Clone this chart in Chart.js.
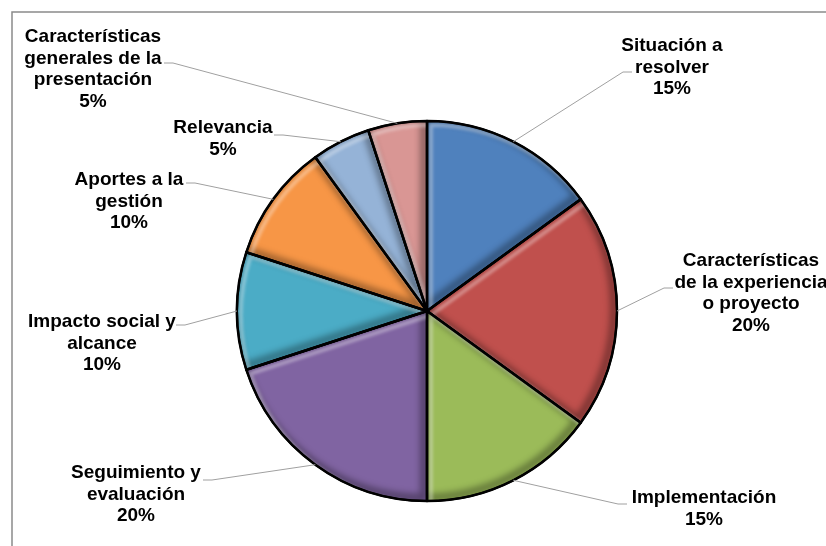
<!DOCTYPE html>
<html>
<head>
<meta charset="utf-8">
<script src="https://cdn.jsdelivr.net/npm/chart.js@4.4.0/dist/chart.umd.min.js"></script>
<style>
  html, body { margin: 0; padding: 0; background: #fff; }
  canvas { display: block; }
</style>
</head>
<body>
<canvas id="pieChart" width="826" height="546"></canvas>
<script>
// Data (clockwise from 12 o'clock)
const categories = [
  'Situación a\nresolver',
  'Características\nde la experiencia\no proyecto',
  'Implementación',
  'Seguimiento y\nevaluación',
  'Impacto social y\nalcance',
  'Aportes a la\ngestión',
  'Relevancia',
  'Características\ngenerales de la\npresentación'
];
const percentages = [15, 20, 15, 20, 10, 10, 5, 5];
const sliceColors = ['#4F81BD', '#C0504D', '#9BBB59', '#8064A2', '#4BACC6', '#F79646', '#95B3D7', '#D99694'];

// label placement: text centre (cx, first line cy) and the point where the leader meets the text
const labelLayout = [
  { cx: 672, cy: 46,  ax: 632, ay: 72,  side: -1 },
  { cx: 751, cy: 261, ax: 673, ay: 288, side: -1 },
  { cx: 704, cy: 498, ax: 627, ay: 504, side: -1 },
  { cx: 136, cy: 473, ax: 203, ay: 480, side: 1 },
  { cx: 102, cy: 322, ax: 176, ay: 325, side: 1 },
  { cx: 129, cy: 180, ax: 186, ay: 183, side: 1 },
  { cx: 223, cy: 128, ax: 274, ay: 135, side: 1 },
  { cx: 93,  cy: 37,  ax: 164, ay: 63,  side: 1 }
];

const framePlugin = {
  id: 'frame',
  beforeDraw(chart) {
    const ctx = chart.ctx;
    ctx.save();
    ctx.strokeStyle = '#8a8a8a';
    ctx.lineWidth = 1.5;
    ctx.strokeRect(12, 12, 840, 560);
    ctx.restore();
  }
};

// soft bevel on each slice, then the black outline again
const bevelPlugin = {
  id: 'bevel',
  afterDatasetsDraw(chart) {
    const ctx = chart.ctx;
    chart.getDatasetMeta(0).data.forEach((arc) => {
      const p = arc.getProps(['x', 'y', 'startAngle', 'endAngle', 'outerRadius'], true);
      const path = () => {
        ctx.beginPath();
        ctx.moveTo(p.x, p.y);
        ctx.arc(p.x, p.y, p.outerRadius, p.startAngle, p.endAngle);
        ctx.closePath();
      };
      ctx.save();
      path();
      ctx.clip();
      ctx.lineJoin = 'round';
      ctx.save();
      ctx.filter = 'blur(3px)';
      ctx.translate(-3, -3);
      ctx.strokeStyle = 'rgba(0,0,0,0.35)';
      ctx.lineWidth = 8;
      path();
      ctx.stroke();
      ctx.restore();
      ctx.save();
      ctx.filter = 'blur(1.5px)';
      ctx.translate(4, 4);
      ctx.strokeStyle = 'rgba(255,255,255,0.35)';
      ctx.lineWidth = 4;
      path();
      ctx.stroke();
      ctx.restore();
      ctx.restore();

      ctx.save();
      ctx.strokeStyle = '#000';
      ctx.lineWidth = 2.5;
      ctx.lineJoin = 'round';
      path();
      ctx.stroke();
      ctx.restore();
    });
  }
};

const labelPlugin = {
  id: 'pieLabels',
  afterDraw(chart) {
    const ctx = chart.ctx;
    const total = percentages.reduce((a, b) => a + b, 0);
    chart.getDatasetMeta(0).data.forEach((arc, i) => {
      const p = arc.getProps(['x', 'y', 'startAngle', 'endAngle', 'outerRadius'], true);
      const mid = (p.startAngle + p.endAngle) / 2;
      const ex = p.x + Math.cos(mid) * p.outerRadius;
      const ey = p.y + Math.sin(mid) * p.outerRadius;
      const L = labelLayout[i];

      ctx.save();
      ctx.strokeStyle = '#a0a0a0';
      ctx.lineWidth = 1;
      ctx.beginPath();
      ctx.moveTo(ex, ey);
      ctx.lineTo(L.ax + L.side * 9, L.ay);
      ctx.lineTo(L.ax, L.ay);
      ctx.stroke();

      const lines = categories[i].split('\n');
      lines.push(Math.round(percentages[i] / total * 100) + '%');
      ctx.fillStyle = '#000';
      ctx.font = 'bold 19px "Liberation Sans", Arial, sans-serif';
      ctx.textAlign = 'center';
      ctx.textBaseline = 'middle';
      lines.forEach((t, k) => ctx.fillText(t, L.cx, L.cy + k * 21.5));
      ctx.restore();
    });
  }
};

new Chart(document.getElementById('pieChart').getContext('2d'), {
  type: 'pie',
  data: {
    labels: categories,
    datasets: [{
      data: percentages,
      backgroundColor: sliceColors,
      borderColor: '#000',
      borderWidth: 2
    }]
  },
  options: {
    responsive: false,
    animation: false,
    layout: { padding: { left: 236, right: 208, top: 120, bottom: 44 } },
    plugins: {
      legend: { display: false },
      tooltip: { enabled: false }
    }
  },
  plugins: [framePlugin, bevelPlugin, labelPlugin]
});
</script>
</body>
</html>
